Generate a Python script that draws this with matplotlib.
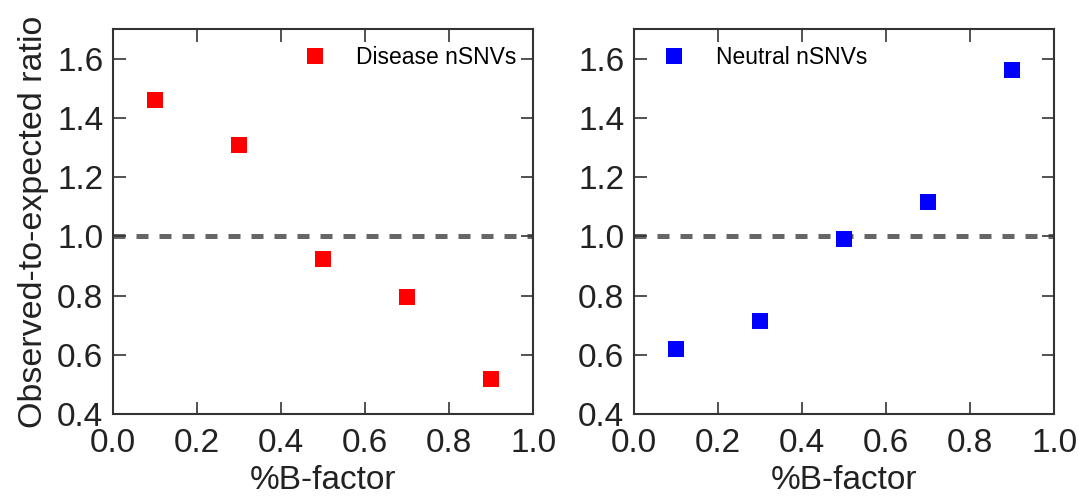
import matplotlib
matplotlib.use('Agg')
import matplotlib.pyplot as plt

# %B-factor bins and observed-to-expected ratios
bfactor = [0.1, 0.3, 0.5, 0.7, 0.9]
disease_ratio = [1.46, 1.31, 0.925, 0.795, 0.52]
neutral_ratio = [0.62, 0.715, 0.99, 1.115, 1.56]

plt.rcParams['font.family'] = ['Liberation Sans', 'DejaVu Sans']

fig, axes = plt.subplots(1, 2, figsize=(10.78, 4.98), dpi=100)
fig.subplots_adjust(left=0.105, right=0.978, top=0.942, bottom=0.168, wspace=0.24)

panels = [
    (axes[0], disease_ratio, 'red', 'Disease nSNVs', 'upper right'),
    (axes[1], neutral_ratio, 'blue', 'Neutral nSNVs', 'upper left'),
]

for ax, ratio, color, label, loc in panels:
    ax.axhline(1.0, color='#666666', linestyle='--', linewidth=3.6, dashes=(2.4, 2.2), zorder=1)
    ax.plot(bfactor, ratio, 's', color=color, markersize=11, markeredgewidth=0,
            label=label, zorder=3)
    ax.set_xlim(0, 1.0)
    ax.set_ylim(0.4, 1.7)
    ax.set_xticks([0.0, 0.2, 0.4, 0.6, 0.8, 1.0])
    ax.set_yticks([0.4, 0.6, 0.8, 1.0, 1.2, 1.4, 1.6])
    ax.tick_params(direction='in', length=9, width=1.2, color='#333333',
                   labelsize=24, labelcolor='#222222', top=True, right=True)
    ax.tick_params(axis='x', pad=10)
    ax.tick_params(axis='y', pad=7)
    for spine in ax.spines.values():
        spine.set_color('#333333')
        spine.set_linewidth(1.5)
    ax.set_xlabel('%B-factor', fontsize=24, color='#222222', labelpad=4)
    ax.legend(loc=loc, frameon=False, fontsize=16.5, numpoints=1, handletextpad=0.8,
              borderaxespad=0.35)

axes[0].set_ylabel('Observed-to-expected ratio', fontsize=24.5, color='#222222', labelpad=6)

fig.savefig('out.png', dpi=100)
